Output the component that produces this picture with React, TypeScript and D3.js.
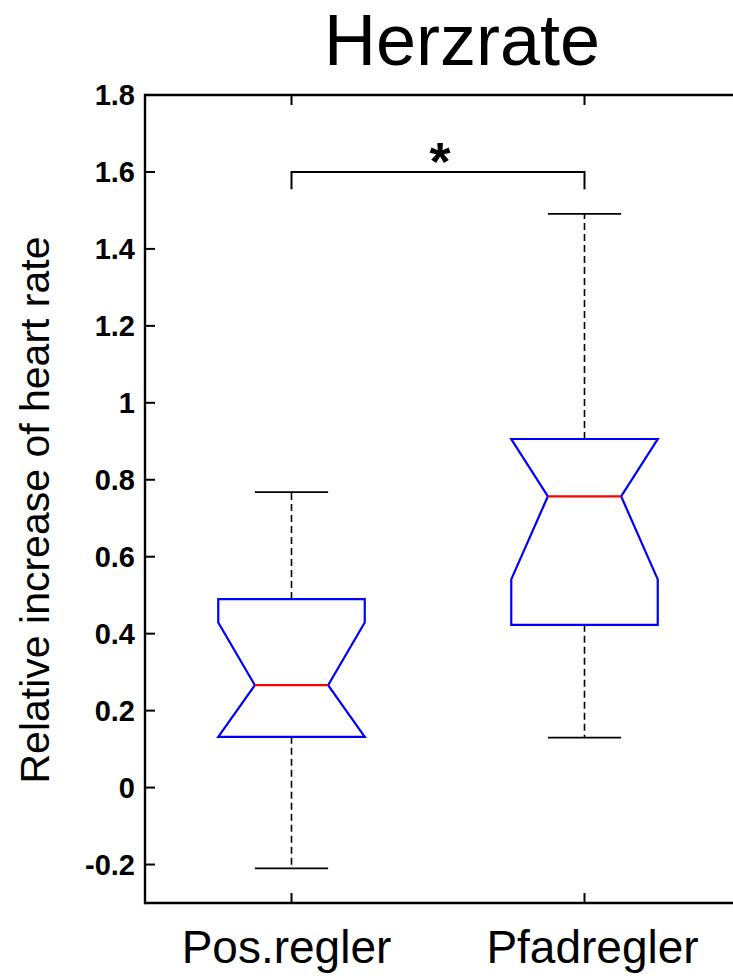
import React from "react"
import * as d3 from "d3"

// box plot summary
const groups = ["Pos.regler", "Pfadregler"]
const whiskerLow = [-0.21, 0.13]
const q1 = [0.132, 0.423]
const median = [0.266, 0.757]
const q3 = [0.49, 0.906]
const whiskerHigh = [0.768, 1.491]
const notchLow = [0.103, 0.541]
const notchHigh = [0.429, 0.973]

const yTicks = [-0.2, 0, 0.2, 0.4, 0.6, 0.8, 1, 1.2, 1.4, 1.6, 1.8]
const bracketLevel = 1.6
const bracketDrop = 0.045

const W = 733
const H = 976
const font = "'Liberation Sans', Arial, Helvetica, sans-serif"

const App: React.FC = () => {
	const margin = { top: 95, left: 145, bottom: 73 }
	const x = d3.scaleLinear().domain([0.5, 2.5]).range([145, 731])
	const y = d3
		.scaleLinear()
		.domain([-0.3, 1.8])
		.range([H - margin.bottom, margin.top])

	const boxHalf = x(1.25) - x(1) // half of 0.5 box width
	const capHalf = boxHalf / 2
	const notchHalf = boxHalf / 2

	const fmt = (d: number) => (d === 0 ? "0" : String(d))

	return (
		<div style={{ position: "fixed", left: 0, top: 0, width: W, height: H, overflow: "hidden" }}>
			<style>{`html,body{margin:0;padding:0;overflow:hidden}`}</style>
			<svg width={W} height={H} style={{ display: "block", background: "white" }}>
				{/* title */}
				<text x={462} y={65} textAnchor="middle" fontFamily={font} fontSize={72}>
					Herzrate
				</text>

				{/* y label */}
				<text
					transform={`translate(49,${510}) rotate(-90)`}
					textAnchor="middle"
					fontFamily={font}
					fontSize={41}>
					Relative increase of heart rate
				</text>

				{/* boxes */}
				{groups.map((g, i) => {
					const cx = x(i + 1)
					const l = cx - boxHalf
					const r = cx + boxHalf
					const nl = cx - notchHalf
					const nr = cx + notchHalf
					const nLo = Math.max(notchLow[i], q1[i])
					const nHi = Math.min(notchHigh[i], q3[i])
					const pts: [number, number][] = [
						[l, y(q1[i])],
						[l, y(nLo)],
						[nl, y(median[i])],
						[l, y(nHi)],
						[l, y(q3[i])],
						[r, y(q3[i])],
						[r, y(nHi)],
						[nr, y(median[i])],
						[r, y(nLo)],
						[r, y(q1[i])],
					]
					const path = d3.line()(pts) + "Z"
					return (
						<g key={g}>
							<line
								x1={cx}
								x2={cx}
								y1={y(q3[i])}
								y2={y(whiskerHigh[i])}
								stroke="black"
								strokeWidth={1.6}
								strokeDasharray="7,4"
							/>
							<line
								x1={cx}
								x2={cx}
								y1={y(q1[i])}
								y2={y(whiskerLow[i])}
								stroke="black"
								strokeWidth={1.6}
								strokeDasharray="7,4"
							/>
							<line
								x1={cx - capHalf}
								x2={cx + capHalf}
								y1={y(whiskerHigh[i])}
								y2={y(whiskerHigh[i])}
								stroke="black"
								strokeWidth={1.8}
							/>
							<line
								x1={cx - capHalf}
								x2={cx + capHalf}
								y1={y(whiskerLow[i])}
								y2={y(whiskerLow[i])}
								stroke="black"
								strokeWidth={1.8}
							/>
							<path d={path} fill="none" stroke="#0000ff" strokeWidth={2.2} />
							<line
								x1={nl}
								x2={nr}
								y1={y(median[i])}
								y2={y(median[i])}
								stroke="#ff0000"
								strokeWidth={2.2}
							/>
						</g>
					)
				})}

				{/* significance bracket */}
				<path
					d={`M${x(1)},${y(bracketLevel - bracketDrop)}V${y(bracketLevel)}H${x(2)}V${y(
						bracketLevel - bracketDrop
					)}`}
					fill="none"
					stroke="black"
					strokeWidth={2}
				/>
				<text
					x={(x(1) + x(2)) / 2 + 2}
					y={y(bracketLevel) + 8}
					textAnchor="middle"
					fontFamily={font}
					fontWeight="bold"
					fontSize={54}>
					*
				</text>

				{/* axes frame */}
				<line x1={145} x2={W + 5} y1={y(1.8)} y2={y(1.8)} stroke="black" strokeWidth={2.4} />
				<line x1={145} x2={W + 5} y1={y(-0.3)} y2={y(-0.3)} stroke="black" strokeWidth={2.4} />
				<line x1={145} x2={145} y1={y(1.8) - 1.2} y2={y(-0.3) + 1.2} stroke="black" strokeWidth={2.4} />

				{/* y ticks */}
				{yTicks.map((t) => (
					<g key={t}>
						<line x1={145} x2={155} y1={y(t)} y2={y(t)} stroke="black" strokeWidth={2} />
						<text
							x={135}
							y={y(t)}
							dy="0.36em"
							textAnchor="end"
							fontFamily={font}
							fontWeight="bold"
							fontSize={29}>
							{fmt(t)}
						</text>
					</g>
				))}

				{/* x ticks and labels */}
				{groups.map((g, i) => (
					<g key={"xt" + g}>
						<line
							x1={x(i + 1)}
							x2={x(i + 1)}
							y1={y(-0.3)}
							y2={y(-0.3) - 10}
							stroke="black"
							strokeWidth={2}
						/>
						<line
							x1={x(i + 1)}
							x2={x(i + 1)}
							y1={y(1.8)}
							y2={y(1.8) + 10}
							stroke="black"
							strokeWidth={2}
						/>
						<text
							x={x(i + 1) + (i === 0 ? -5 : 8)}
							y={963}
							textAnchor="middle"
							fontFamily={font}
							fontSize={46}>
							{g}
						</text>
					</g>
				))}
			</svg>
		</div>
	)
}

export default App
